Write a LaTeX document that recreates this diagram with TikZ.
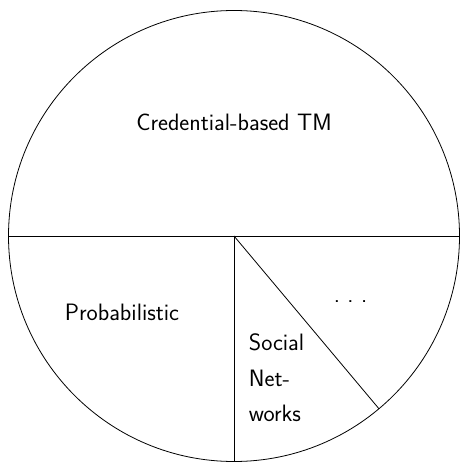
\documentclass[tikz,border=0pt]{standalone}
\usetikzlibrary{calc}
\begin{document}
\begin{tikzpicture}[x=1pt,y=-1pt,
  line width=0.8pt,
  lbl/.style={font=\sffamily\fontsize{23.7}{35.5}\selectfont, inner sep=0pt}]
\useasboundingbox (0,0) rectangle (459,462);
\coordinate (c) at (234,236);
\draw (c) circle[radius=225.5];
\coordinate (w) at (8.5,236);
\coordinate (e) at (459.5,236);
\coordinate (s) at (234,461.5);
\coordinate (d) at ($(c)+(50:225.5)$);
\draw (w) -- (e);
\draw (c) -- (s);
\draw (c) -- (d);
\node[lbl, anchor=base] (cred) at (234,131) {Credential-based TM};
\node[lbl, anchor=base] (prob) at (122,320) {Probabilistic};
\node[lbl, anchor=base] (dots) at (350.5,302) {.\ .\ .};
\node[lbl, anchor=base west] (soc1) at (248.5,350.5) {Social};
\node[lbl, anchor=base west] (soc2) at (248.5,386) {Net-};
\node[lbl, anchor=base west] (soc3) at (248.5,421.5) {works};
\end{tikzpicture}
\end{document}
